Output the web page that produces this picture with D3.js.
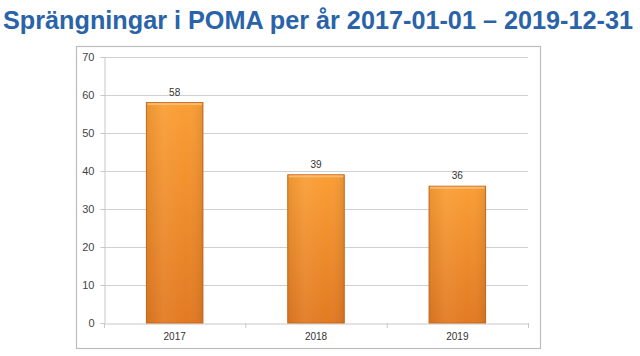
<!DOCTYPE html>
<html><head><meta charset="utf-8">
<script src="https://cdn.jsdelivr.net/npm/d3@7"></script>
<style>body{margin:0;background:#fff;}svg{display:block;}</style>
</head><body>
<script>
const categories = ["2017", "2018", "2019"];
const values = [58, 39, 36];
const yTicks = [0, 10, 20, 30, 40, 50, 60, 70];
const title = "Sprängningar i POMA per år 2017-01-01 – 2019-12-31";

(function () {
const W = 640, H = 356;
const svg = d3.select("body").append("svg").attr("width", W).attr("height", H);

const defs = svg.append("defs");
const g1 = defs.append("linearGradient").attr("id", "barV").attr("x1", 0).attr("y1", 0).attr("x2", 0).attr("y2", 1);
g1.append("stop").attr("offset", "0%").attr("stop-color", "#fa9e35");
g1.append("stop").attr("offset", "100%").attr("stop-color", "#e27a22");
const g2 = defs.append("linearGradient").attr("id", "barH").attr("x1", 0).attr("y1", 0).attr("x2", 1).attr("y2", 0);
g2.append("stop").attr("offset", "0%").attr("stop-color", "#000").attr("stop-opacity", 0.06);
g2.append("stop").attr("offset", "30%").attr("stop-color", "#fff").attr("stop-opacity", 0.06);
g2.append("stop").attr("offset", "70%").attr("stop-color", "#fff").attr("stop-opacity", 0.0);
g2.append("stop").attr("offset", "100%").attr("stop-color", "#000").attr("stop-opacity", 0.08);

svg.append("text").attr("x", 318).attr("y", 29).attr("text-anchor", "middle")
  .attr("font-family", "Liberation Sans, Arial, sans-serif").attr("font-weight", "bold")
  .attr("font-size", 25).attr("fill", "#2a63a8").attr("textLength", 630).attr("lengthAdjust", "spacingAndGlyphs")
  .text(title);

svg.append("rect").attr("x", 76.5).attr("y", 46.5).attr("width", 464).attr("height", 302)
  .attr("fill", "#fff").attr("stroke", "#bdbdbd").attr("stroke-width", 1.2);

const pl = 104, pr = 528, pt = 57, pb = 323;
const x = d3.scaleBand().domain(categories).range([pl, pr]).paddingInner(0.6).paddingOuter(0.3);
const y = d3.scaleLinear().domain([0, 70]).range([pb, pt]);

svg.append("g").selectAll("line").data(yTicks.filter(d => d > 0)).join("line")
  .attr("x1", pl).attr("x2", pr).attr("y1", d => y(d) + 0.5).attr("y2", d => y(d) + 0.5)
  .attr("stroke", "#d0d0d0").attr("stroke-width", 1);

const yAxis = svg.append("g").attr("transform", `translate(${pl + 0.5},0)`)
  .call(d3.axisLeft(y).tickValues(yTicks).tickSize(4).tickPadding(6));
yAxis.select(".domain").attr("stroke", "#c8c8c8");
yAxis.selectAll(".tick line").attr("stroke", "#c8c8c8");
yAxis.selectAll("text").attr("font-family", "Liberation Sans, Arial, sans-serif").attr("font-size", 11).attr("fill", "#444");

const xAxis = svg.append("g").attr("transform", `translate(0,${pb + 0.5})`)
  .call(d3.axisBottom(x).tickSize(0).tickPadding(9));
xAxis.select(".domain").attr("stroke", "#c8c8c8");
xAxis.selectAll("text").attr("font-family", "Liberation Sans, Arial, sans-serif").attr("font-size", 10).attr("fill", "#333");
const step = x.step();
const bounds = [pl].concat(categories.map((c, i) => pl + step * (i + 1)));
svg.append("g").selectAll("line").data(bounds).join("line")
  .attr("x1", d => d + 0.5).attr("x2", d => d + 0.5).attr("y1", pb).attr("y2", pb + 5)
  .attr("stroke", "#c8c8c8");

const bars = svg.append("g");
bars.selectAll("rect.b").data(values).join("rect").attr("class", "b")
  .attr("x", (d, i) => x(categories[i])).attr("width", x.bandwidth())
  .attr("y", d => y(d)).attr("height", d => y(0) - y(d))
  .attr("fill", "url(#barV)").attr("stroke", "#c8691c").attr("stroke-width", 1);
bars.selectAll("rect.h").data(values).join("rect").attr("class", "h")
  .attr("x", (d, i) => x(categories[i])).attr("width", x.bandwidth())
  .attr("y", d => y(d)).attr("height", d => y(0) - y(d))
  .attr("fill", "url(#barH)");
bars.selectAll("rect.t").data(values).join("rect").attr("class", "t")
  .attr("x", (d, i) => x(categories[i]) + 1).attr("width", x.bandwidth() - 2)
  .attr("y", d => y(d) + 0.5).attr("height", 2)
  .attr("fill", "#fdc27a").attr("opacity", 0.8);

svg.append("g").selectAll("text").data(values).join("text")
  .attr("x", (d, i) => x(categories[i]) + x.bandwidth() / 2).attr("y", d => y(d) - 7)
  .attr("text-anchor", "middle").attr("font-family", "Liberation Sans, Arial, sans-serif")
  .attr("font-size", 10).attr("fill", "#333").text(d => d);
})();
</script>
</body></html>
